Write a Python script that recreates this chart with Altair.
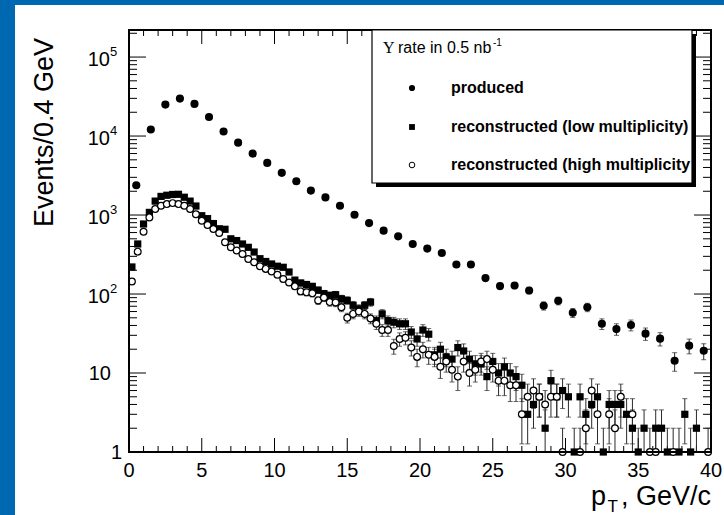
import altair as alt
import pandas as pd

# ---------------- data ----------------
prod_pt = [0.5, 1.5, 2.5, 3.5, 4.5, 5.5, 6.5, 7.5, 8.5, 9.5,
           10.5, 11.5, 12.5, 13.5, 14.5, 15.5, 16.5, 17.5, 18.5, 19.5,
           20.5, 21.5, 22.5, 23.5, 24.5, 25.5, 26.5, 27.5, 28.5, 29.5,
           30.5, 31.5, 32.5, 33.5, 34.5, 35.5, 36.5, 37.5, 38.5, 39.5]
prod_n = [2380, 12100, 25000, 29800, 25500, 17400, 11400, 8240, 5990, 4570,
          3420, 2680, 2040, 1670, 1310, 1010, 791, 634, 537, 430,
          376, 331, 236, 236, 159, 126, 128, 111, 71, 82,
          58, 68, 42, 36, 40.5, 31.5, 27.2, 14.3, 22.2, 19.1]

reco_pt = [0.2, 0.6, 1.0, 1.4, 1.8, 2.2, 2.6, 3.0, 3.4, 3.8,
           4.2, 4.6, 5.0, 5.4, 5.8, 6.2, 6.6, 7.0, 7.4, 7.8,
           8.2, 8.6, 9.0, 9.4, 9.8, 10.2, 10.6, 11.0, 11.4, 11.8,
           12.2, 12.6, 13.0, 13.4, 13.8, 14.2, 14.6, 15.0, 15.4, 15.8,
           16.2, 16.6, 17.0, 17.4, 17.8, 18.2, 18.6, 19.0, 19.4, 19.8,
           20.2, 20.6, 21.0, 21.4, 21.8, 22.2, 22.6, 23.0, 23.4, 23.8,
           24.2, 24.6, 25.0, 25.4, 25.8, 26.2, 26.6, 27.0, 27.4, 27.8,
           28.2, 28.6, 29.0, 29.4, 29.8, 30.2, 30.6, 31.0, 31.4, 31.8,
           32.2, 32.6, 33.0, 33.4, 33.8, 34.2, 34.6, 35.0, 35.4, 35.8,
           36.2, 36.6, 37.0, 37.4, 37.8, 38.2, 38.6, 39.0, 39.4, 39.8]
low_n = [220, 430, 770, 1080, 1500, 1720, 1780, 1820, 1830, 1680,
         1500, 1300, 980, 900, 780, 670, 660, 500, 475, 430,
         390, 340, 280, 258, 240, 225, 218, 190, 150, 138,
         132, 125, 112, 101, 96, 98, 87, 83, 72, 65,
         72, 79, 46, 56, 46, 44, 42, 42, 33, 27,
         35, 31, 17, 20, 16, 15, 21, 19, 15, 13,
         13, 9, 14, 10, 12, 10, 9, 7, 3, 4,
         5, 2, 8, 5, 6, 5, 1, 5, 3, 4,
         5, 1, 4, 4, 4, 3, 2, 1, 2, None,
         2, 2, 1, None, 1, 3, 1, 2, None, None]
high_n = [144, 344, 615, 933, 1190, 1310, 1375, 1415, 1375, 1310,
          1190, 1025, 847, 747, 664, 591, 452, 390, 355, 321,
          278, 252, 225, 208, 193, 175, 155, 140, 125, 108,
          105, 102, 83, 90, 79, 78, 68, 50, 56, 60,
          56, 49, 42, 35, 35, 22, 27, 28, 21, 16,
          20, 17, 16, 12, 14, 11, 9, 14, 10, 11,
          14, 15, 11, 8, 8, 7, 7, 3, 5, 6,
          5, 4, 5, 5, 1, None, None, 1, 2, 6,
          3, None, 3, 2, 5, None, 3, None, None, 1,
          1, None, None, 1, None, None, None, None, None, 1]

x_major = [0, 5, 10, 15, 20, 25, 30, 35, 40]
x_labels = ["0", "5", "10", "15", "20", "25", "30", "35", "40"]
x_minor = [1, 2, 3, 4, 6, 7, 8, 9, 11, 12, 13, 14, 16, 17, 18, 19, 21, 22, 23, 24,
           26, 27, 28, 29, 31, 32, 33, 34, 36, 37, 38, 39]
y_major = [1, 10, 100, 1000, 10000, 100000]
y_lab_base = ["1", "10", "10", "10", "10", "10"]
y_lab_exp = ["", "", "2", "3", "4", "5"]
y_minor = [m * d for d in [1, 10, 100, 1000, 10000] for m in range(2, 10)] + [200000]

leg_title_sym = "\u03a5"
leg_title = "rate in 0.5 nb"
leg_title_exp = "-1"
leg_labels = ["produced", "reconstructed (low multiplicity)", "reconstructed (high multiplicity)"]

# ---------------- layout ----------------
W, H = 582, 422
FONT = "Liberation Sans"
BLUE = "#0067b1"

xs = alt.Scale(domain=[0, 40], nice=False, zero=False)
ys = alt.Scale(type="log", domain=[1, 220000], nice=False)

df_prod = pd.DataFrame({"pt": prod_pt, "n": prod_n})
df_low = pd.DataFrame({"pt": reco_pt, "n": low_n}).dropna()
df_high = pd.DataFrame({"pt": reco_pt, "n": high_n}).dropna()


def one(text=""):
    return alt.Chart(pd.DataFrame({"t": [text]}))


def errs(df):
    base = alt.Chart(df).transform_calculate(
        lo="max(datum.n - sqrt(datum.n), 0.3)", hi="datum.n + sqrt(datum.n)"
    )
    bar = base.mark_rule(color="#2a2a2a", strokeWidth=1, clip=True).encode(
        x=alt.X("pt:Q", scale=xs, axis=None),
        y=alt.Y("lo:Q", scale=ys, axis=None),
        y2="hi:Q",
    )
    cap_lo = base.mark_tick(orient="horizontal", size=5, thickness=1, color="#2a2a2a", clip=True).encode(
        x=alt.X("pt:Q", scale=xs, axis=None), y=alt.Y("lo:Q", scale=ys, axis=None))
    cap_hi = base.mark_tick(orient="horizontal", size=5, thickness=1, color="#2a2a2a", clip=True).encode(
        x=alt.X("pt:Q", scale=xs, axis=None), y=alt.Y("hi:Q", scale=ys, axis=None))
    return [bar, cap_lo, cap_hi]


enc = dict(x=alt.X("pt:Q", scale=xs, axis=None), y=alt.Y("n:Q", scale=ys, axis=None))

bg = one().mark_rect(fill="white", clip=False).encode(
    x=alt.value(-114), x2=alt.value(W + 13), y=alt.value(-25), y2=alt.value(H + 63))

pts_prod = alt.Chart(df_prod).mark_point(shape="circle", filled=True, size=66, color="black", opacity=1).encode(**enc)
pts_low = alt.Chart(df_low).mark_square(size=52, color="black", opacity=1).encode(**enc)
pts_high = alt.Chart(df_high).mark_point(shape="circle", filled=True, fill="white", stroke="black",
                                         strokeWidth=1.2, size=46, opacity=1).encode(**enc)


def xticks(vals, ln):
    d = pd.DataFrame({"v": vals})
    b = alt.Chart(d).mark_rule(color="black", strokeWidth=1).encode(
        x=alt.X("v:Q", scale=xs, axis=None), y=alt.value(H), y2=alt.value(H - ln))
    t = alt.Chart(d).mark_rule(color="black", strokeWidth=1).encode(
        x=alt.X("v:Q", scale=xs, axis=None), y=alt.value(0), y2=alt.value(ln))
    return [b, t]


def yticks(vals, ln):
    d = pd.DataFrame({"v": vals})
    l = alt.Chart(d).mark_rule(color="black", strokeWidth=1).encode(
        y=alt.Y("v:Q", scale=ys, axis=None), x=alt.value(0), x2=alt.value(ln))
    r = alt.Chart(d).mark_rule(color="black", strokeWidth=1).encode(
        y=alt.Y("v:Q", scale=ys, axis=None), x=alt.value(W), x2=alt.value(W - ln))
    return [l, r]


ticks = xticks(x_major, 14) + xticks(x_minor, 6) + yticks(y_major, 17) + yticks(y_minor, 8)

xl = alt.Chart(pd.DataFrame({"v": x_major, "t": x_labels})).mark_text(
    font=FONT, fontSize=20, align="center", baseline="alphabetic", color="black").encode(
    x=alt.X("v:Q", scale=xs, axis=None), y=alt.value(H + 25), text="t:N")

ydf = pd.DataFrame({"v": y_major, "b": y_lab_base, "e": y_lab_exp})
yl_base_exp = alt.Chart(ydf).transform_filter("datum.e != ''").mark_text(
    font=FONT, fontSize=20, align="right", baseline="alphabetic", dy=9, color="black").encode(
    y=alt.Y("v:Q", scale=ys, axis=None), x=alt.value(-19), text="b:N")
yl_exp = alt.Chart(ydf).transform_filter("datum.e != ''").mark_text(
    font=FONT, fontSize=13, align="left", baseline="alphabetic", dy=-1, color="black").encode(
    y=alt.Y("v:Q", scale=ys, axis=None), x=alt.value(-19), text="e:N")
yl_ten = alt.Chart(ydf).transform_filter("datum.b == '10' && datum.e == ''").mark_text(
    font=FONT, fontSize=20, align="right", baseline="alphabetic", dy=7, color="black").encode(
    y=alt.Y("v:Q", scale=ys, axis=None), x=alt.value(-18), text="b:N")
yl_one = alt.Chart(ydf).transform_filter("datum.b == '1'").mark_text(
    font=FONT, fontSize=20, align="right", baseline="alphabetic", dy=7, color="black").encode(
    y=alt.Y("v:Q", scale=ys, axis=None), x=alt.value(-7), text="b:N")

ytitle = one("Events/0.4 GeV").mark_text(
    font=FONT, fontSize=27, angle=270, align="right", baseline="middle", color="black").encode(
    x=alt.value(-84), y=alt.value(8), text="t:N")
xt1 = one(", GeV/c").mark_text(font=FONT, fontSize=27, align="right", baseline="alphabetic",
                               color="black").encode(x=alt.value(W), y=alt.value(H + 53), text="t:N")
xt2 = one("T").mark_text(font=FONT, fontSize=17, align="right", baseline="alphabetic",
                         color="black").encode(x=alt.value(W - 93), y=alt.value(H + 60), text="t:N")
xt3 = one("p").mark_text(font=FONT, fontSize=27, align="right", baseline="alphabetic",
                         color="black").encode(x=alt.value(W - 105), y=alt.value(H + 53), text="t:N")

frame = one().mark_rect(fill=None, stroke="black", strokeWidth=2, clip=False).encode(
    x=alt.value(0), x2=alt.value(W), y=alt.value(0), y2=alt.value(H))

LX0, LX1, LY0, LY1 = 243, 563, 0, 153
shadow = one().mark_rect(fill="black", clip=False).encode(
    x=alt.value(LX0 + 4), x2=alt.value(LX1 + 4), y=alt.value(LY0 + 4), y2=alt.value(LY1 + 4))
lbox = one().mark_rect(fill="white", stroke="black", strokeWidth=1.2, clip=False).encode(
    x=alt.value(LX0), x2=alt.value(LX1), y=alt.value(LY0), y2=alt.value(LY1))
lsym = one(leg_title_sym).mark_text(font="Liberation Serif", fontSize=16, align="left", baseline="alphabetic",
                                    color="black").encode(x=alt.value(254), y=alt.value(23), text="t:N")
ltitle = one(leg_title).mark_text(font=FONT, fontSize=16, align="left", baseline="alphabetic",
                                  color="black").encode(x=alt.value(269), y=alt.value(23), text="t:N")
ltitle_e = one(leg_title_exp).mark_text(font=FONT, fontSize=10, align="left", baseline="alphabetic",
                                        color="black").encode(x=alt.value(364), y=alt.value(16), text="t:N")
LY = [58, 97, 135]
lm1 = one().mark_point(shape="circle", filled=True, size=38, color="black", opacity=1).encode(
    x=alt.value(283), y=alt.value(LY[0]))
lm2 = one().mark_square(size=34, color="black", opacity=1).encode(x=alt.value(283), y=alt.value(LY[1]))
lm3 = one().mark_point(shape="circle", filled=True, fill="white", stroke="black", strokeWidth=1,
                       size=32, opacity=1).encode(x=alt.value(283), y=alt.value(LY[2]))
ltexts = []
for i, lab in enumerate(leg_labels):
    ltexts.append(one(lab).mark_text(font=FONT, fontSize=16, fontWeight="bold", align="left",
                                     baseline="middle", color="black", limit=242, ellipsis="\u200b").encode(
        x=alt.value(322), y=alt.value(LY[i]), text="t:N"))

layers = ([bg] + ticks + errs(df_prod) + [pts_prod] + errs(df_low) + errs(df_high)
          + [pts_low, pts_high, frame, shadow, lbox, lsym, ltitle, ltitle_e, lm1, lm2, lm3] + ltexts
          + [xl, yl_base_exp, yl_exp, yl_ten, yl_one, ytitle, xt1, xt2, xt3])

chart = alt.layer(*layers).properties(
    width=W, height=H,
    padding={"left": 129, "top": 30, "right": 13, "bottom": 63},
    autosize=alt.AutoSizeParams(type="none"),
    background=BLUE,
).configure_view(strokeWidth=0, fill=None)

chart.save("out.html", embed_options={"renderer": "svg", "actions": False})
